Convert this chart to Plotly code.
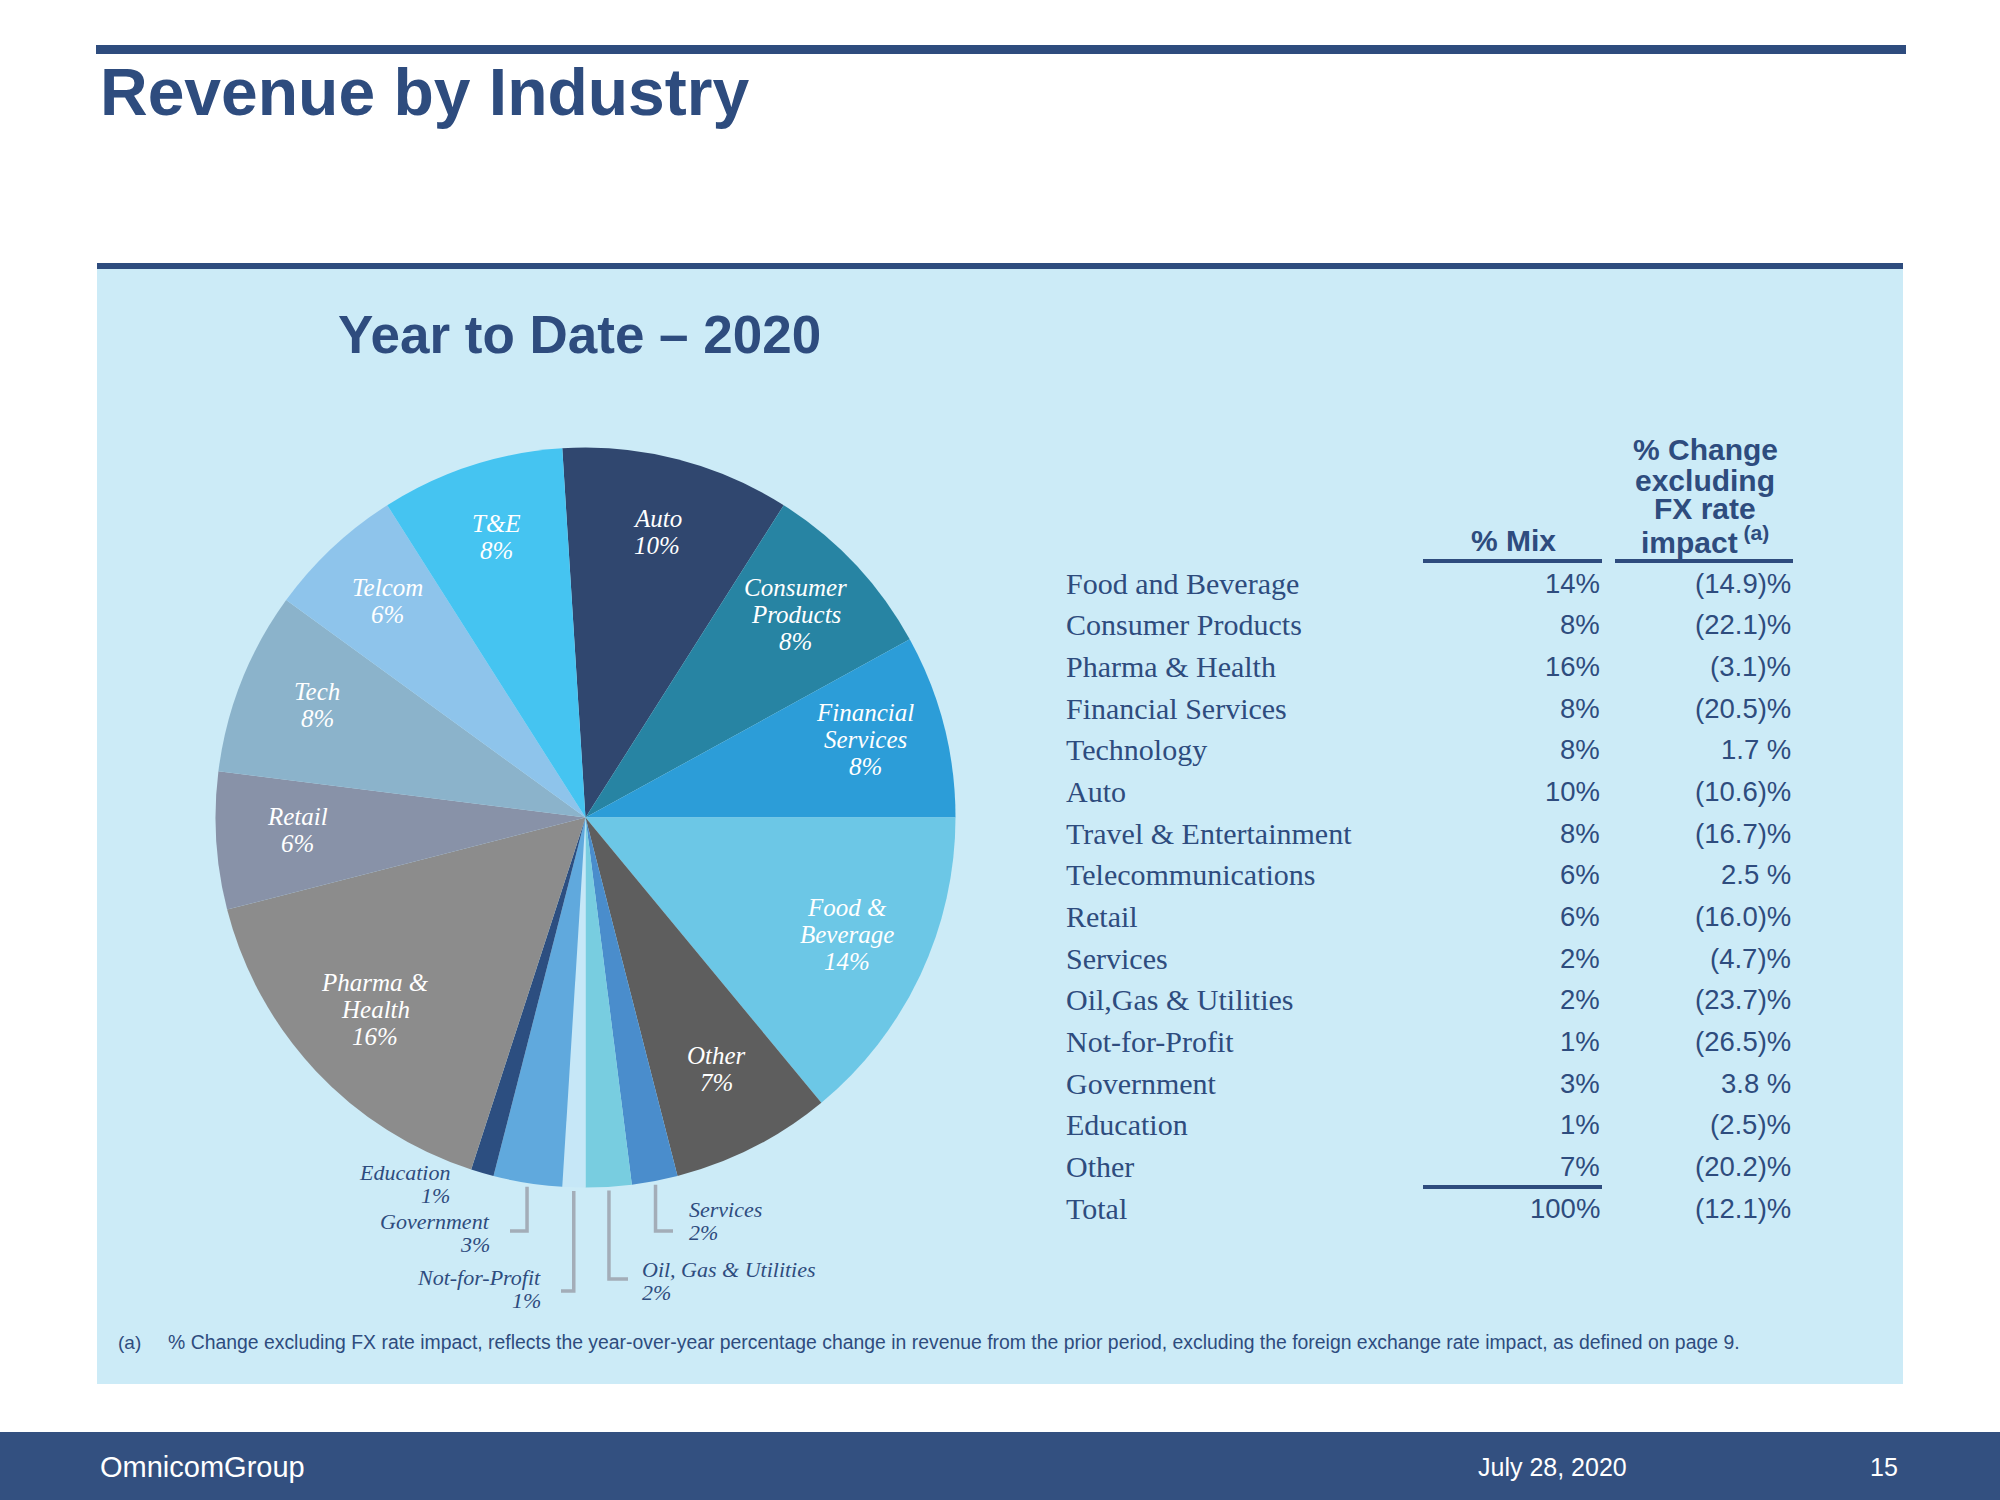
import numpy as np
import plotly.graph_objects as go

W, H = 2000, 1500
NAVY = "#2E4C7E"
PANEL = "#CCEBF7"

# pie slices, clockwise from 12 o'clock
pie_labels = ["Auto", "Consumer<br>Products", "Financial<br>Services", "Food &<br>Beverage",
              "Other", "Services", "Oil, Gas & Utilities", "Not-for-Profit", "Government",
              "Education", "Pharma &<br>Health", "Retail", "Tech", "Telcom", "T&E"]
pie_values = [10, 8, 8, 14, 7, 2, 2, 1, 3, 1, 16, 6, 8, 6, 8]
pie_colors = ["#30476F", "#2784A3", "#2C9DD8", "#6CC7E6", "#5E5E5E", "#4A8DCC", "#78CDE0",
              "#C6E7F7", "#60A9DD", "#2C4E80", "#8C8C8C", "#8892A8", "#8BB3CB", "#8EC4EB",
              "#45C4F1"]

# table
industries = ["Food and Beverage", "Consumer Products", "Pharma & Health", "Financial Services",
              "Technology", "Auto", "Travel & Entertainment", "Telecommunications", "Retail",
              "Services", "Oil,Gas & Utilities", "Not-for-Profit", "Government", "Education",
              "Other", "Total"]
mix = ["14%", "8%", "16%", "8%", "8%", "10%", "8%", "6%", "6%", "2%", "2%", "1%", "3%", "1%",
       "7%", "100%"]
fx_change = ["(14.9)%", "(22.1)%", "(3.1)%", "(20.5)%", "1.7 %", "(10.6)%", "(16.7)%", "2.5 %",
             "(16.0)%", "(4.7)%", "(23.7)%", "(26.5)%", "3.8 %", "(2.5)%", "(20.2)%", "(12.1)%"]


def px(x):
    return x / W


def py(y):
    return 1 - y / H


# pie geometry (pixels)
cx, cy, r = 585.5, 817.6, 370
rotation = -3.6

fig = go.Figure()
fig.add_trace(go.Pie(
    values=pie_values, labels=[l.replace("<br>", " ") for l in pie_labels],
    marker=dict(colors=pie_colors, line=dict(width=0)),
    sort=False, direction="clockwise", rotation=rotation,
    textinfo="none", hoverinfo="skip", showlegend=False,
    domain=dict(x=[px(cx - r), px(cx + r)], y=[py(cy + r), py(cy - r)]),
))

shapes = [
    dict(type="rect", x0=px(96), x1=px(1906), y0=py(45), y1=py(54), fillcolor=NAVY, line_width=0, layer="below"),
    dict(type="rect", x0=px(97), x1=px(1903), y0=py(263), y1=py(1384), fillcolor=PANEL, line_width=0, layer="below"),
    dict(type="rect", x0=px(97), x1=px(1903), y0=py(263), y1=py(269), fillcolor=NAVY, line_width=0, layer="below"),
    dict(type="rect", x0=0, x1=1, y0=py(1432), y1=0, fillcolor="#335080", line_width=0, layer="below"),
]
annotations = []


def note(x, y, text, size, color=NAVY, family="Liberation Sans", xanchor="left", align="left"):
    annotations.append(dict(x=px(x), y=py(y), xref="paper", yref="paper", text=text, showarrow=False,
                            xanchor=xanchor, yanchor="middle", align=align,
                            font=dict(size=size, color=color, family=family)))


def lines(x, y, text, size, step, color, xanchor):
    parts = text.split("<br>")
    y0 = y - step * (len(parts) - 1) / 2
    for k, p in enumerate(parts):
        note(x, y0 + k * step, f"<i>{p}</i>", size, color, "Liberation Serif", xanchor=xanchor, align=xanchor)


note(98, 92, "<b>Revenue by Industry</b>", 66)
note(336, 334, "<b>Year to Date – 2020</b>", 53)

# slice mid angles from the data
vals = np.array(pie_values, dtype=float)
cum = np.cumsum(vals) - vals / 2
mid = np.radians(rotation + cum / vals.sum() * 360)

outside = {  # name: (elbow y, elbow end x, text x, text y, anchor)
    "Services": (1231, 673, 687, 1221, "left"),
    "Oil, Gas & Utilities": (1279, 628, 640, 1281, "left"),
    "Not-for-Profit": (1291, 561, 543, 1289, "right"),
    "Government": (1231, 510, 492, 1233, "right"),
    "Education": (None, None, 452, 1184, "right"),
}

for lab, v, a in zip(pie_labels, pie_values, mid):
    if lab in outside:
        ey, ex, tx, ty, anc = outside[lab]
        if ey is not None:
            sx, sy = cx + r * 1.01 * np.sin(a), cy - r * 1.01 * np.cos(a)
            shapes.append(dict(type="path", xref="paper", yref="paper",
                               path=f"M{px(sx)},{py(sy)} L{px(sx)},{py(ey)} L{px(ex)},{py(ey)}",
                               line=dict(color="#A3ADB8", width=3.5)))
        lines(tx, ty, f"{lab}<br>{v}%", 22, 23, NAVY, anc)
    else:
        lx, ly = cx + 0.78 * r * np.sin(a), cy - 0.78 * r * np.cos(a) - 6
        lines(lx, ly, f"{lab}<br>{v}%", 25, 27, "white", "center")

# table
row0, step = 583, 41.67
for i, (name, m, c) in enumerate(zip(industries, mix, fx_change)):
    y = row0 + i * step
    note(1064, y, name, 30, NAVY, "Liberation Serif")
    note(1602, y, m, 27.5, NAVY, xanchor="right", align="right")
    note(1793, y, c, 27.5, NAVY, xanchor="right", align="right")

note(1513, 540, "<b>% Mix</b>", 30, xanchor="center", align="center")
for t, y in zip(["% Change", "excluding", "FX rate", "impact<sup> (a)</sup>"], [449, 480, 509, 540]):
    note(1705, y, f"<b>{t}</b>", 30, xanchor="center", align="center")

for x0, x1, y in [(1423, 1602, 561), (1615, 1793, 561), (1423, 1602, 1187)]:
    shapes.append(dict(type="line", xref="paper", yref="paper", x0=px(x0), x1=px(x1), y0=py(y), y1=py(y),
                       line=dict(color=NAVY, width=4)))

note(116, 1342, "(a)", 19)
note(166, 1342, "% Change excluding FX rate impact, reflects the year-over-year percentage change in revenue "
                "from the prior period, excluding the foreign exchange rate impact, as defined on page 9.", 19.4)

# footer
note(98, 1467, "OmnicomGroup", 29, "white")
note(1552, 1467, "July 28, 2020", 25, "white", xanchor="center")
note(1884, 1467, "15", 25, "white", xanchor="center")

fig.update_layout(width=W, height=H, margin=dict(l=0, r=0, t=0, b=0),
                  paper_bgcolor="white", plot_bgcolor="white",
                  shapes=shapes, annotations=annotations)
fig.write_html("out.html", config={"displayModeBar": False},
               post_script="document.body.style.margin='0';")
